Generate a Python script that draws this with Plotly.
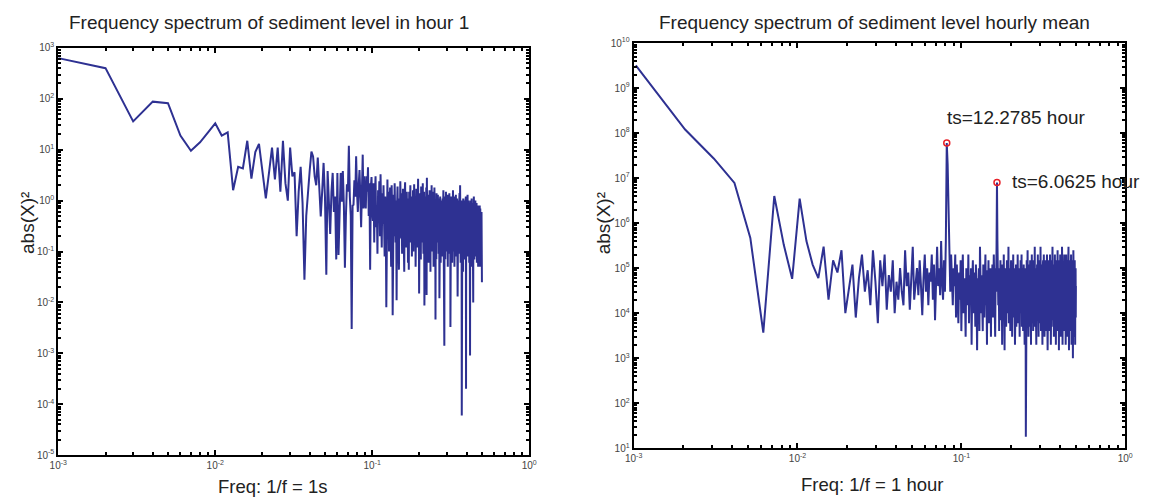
import math
import plotly.graph_objects as go

W, H = 1149, 502

# ---------------- data ----------------
left_n = 1000      # FFT length, left panel (1 s sampling)
right_n = 970      # FFT length, right panel (1 h sampling)

left_vals = [
    630, 400, 36, 88, 82, 19, 9.5, 14, 22, 33, 19, 22, 1.6, 4.6, 4.3, 15, 2.7, 9, 13, 4,
    1.1, 3.5, 11, 2.6, 11, 1.5, 15, 2.2, 1.0, 11, 3.0, 3.6, 0.2, 1.5, 4.6, 0.9, 0.028, 0.5, 1.8, 4,
    9.2, 7.4, 3, 2, 7, 2, 0.49, 1.5, 5.5, 1.2, 0.035, 3.8, 1, 0.22, 1.5, 3.5, 0.6, 1.2, 0.07, 3.5,
    0.085, 1.3, 3.5, 0.95, 3.8, 0.8, 0.048, 0.5, 2.1, 1.5, 12, 1.2, 0.5, 0.003, 0.8, 0.83, 2.5, 1.2, 7.4, 1.5,
    0.6, 2, 4, 1.2, 0.3, 1.6, 8, 0.7, 3, 0.9, 0.7, 3, 1.5, 4.5, 0.5, 2.2, 0.044, 1.8, 2.9, 0.6,
    0.4, 2.2, 0.15, 1.1, 3.0, 0.3, 0.8, 0.09, 1.6, 0.5, 2.4, 0.2, 3.3, 0.7, 0.12, 1.4, 0.35, 2.0, 0.6, 0.08,
    1.2, 0.4, 0.008, 0.9, 2.6, 0.25, 1.5, 0.1, 0.7, 1.8, 0.3, 0.05, 2.0, 0.6, 0.0056, 0.4, 1.3, 0.2, 2.2, 0.5,
    0.15, 1.0, 0.011, 0.8, 1.9, 0.35, 0.07, 0.044, 1.1, 0.3, 2.4, 0.6, 0.18, 1.4, 0.09, 0.5, 1.7, 0.25, 0.9, 0.04,
    1.3, 2.3, 0.2, 0.6, 0.12, 1.5, 0.4, 0.9, 0.06, 1.1, 0.044, 1.5, 0.3, 0.7, 2.0, 0.15, 0.5, 1.2, 0.08, 0.9,
    0.3, 1.6, 0.1, 0.6, 2.1, 0.25, 0.45, 1.0, 0.05, 0.8, 1.7, 0.2, 0.5, 0.12, 1.3, 2.7, 0.35, 0.7, 0.015, 0.6,
    1.4, 0.2, 0.9, 0.07, 1.9, 0.4, 0.15, 1.1, 0.5, 2.2, 0.3, 0.09, 0.8, 1.5, 0.0087, 0.6, 0.25, 1.2, 0.45, 0.1,
    1.8, 0.014, 2.8, 0.3, 0.7, 0.12, 1.3, 0.5, 0.06, 1.0, 0.35, 1.6, 0.2, 0.8, 0.04, 1.2, 0.4, 0.15, 2.0, 0.55,
    0.1, 0.9, 1.5, 0.25, 0.6, 0.05, 1.1, 0.3, 1.8, 0.45, 0.12, 0.8, 0.0046, 1.0, 0.35, 0.07, 1.4, 0.2, 0.6, 1.2,
    0.15, 1.3, 0.4, 0.8, 0.09, 0.5, 1.1, 0.012, 0.7, 0.25, 1.2, 0.45, 0.06, 0.9, 0.3, 1.0, 0.18, 0.9, 0.5, 0.08,
    1.1, 0.3, 0.7, 1.6, 0.2, 0.5, 0.9, 0.0014, 0.6, 1.2, 0.25, 0.07, 0.8, 0.4, 1.5, 0.15, 0.6, 1.0, 0.1, 0.45,
    1.3, 0.3, 0.05, 0.8, 0.5, 1.1, 0.2, 0.7, 0.09, 1.4, 0.35, 0.6, 0.12, 1.0, 0.0033, 0.5, 0.25, 0.9, 1.2, 0.15,
    0.4, 0.8, 0.06, 1.1, 0.3, 0.55, 1.6, 0.2, 0.7, 0.1, 0.9, 0.35, 1.2, 0.05, 0.6, 0.25, 1.0, 0.4, 0.08, 0.75,
    1.3, 0.2, 0.5, 0.9, 0.12, 0.6, 1.1, 0.3, 0.07, 0.013, 0.8, 0.45, 1.0, 0.18, 0.6, 0.35, 0.09, 0.9, 0.25, 1.4,
    0.5, 0.15, 2.0, 0.7, 0.3, 0.06, 0.8, 0.4, 1.0, 0.2, 0.55, 0.00006, 0.6, 0.3, 0.9, 0.12, 0.5, 0.7, 0.04, 1.1,
    0.3, 0.6, 0.1, 0.8, 0.45, 0.2, 1.0, 0.35, 0.07, 0.7, 0.25, 0.9, 0.15, 0.5, 1.2, 0.0002, 0.6, 0.3, 0.8, 0.1,
    0.45, 0.9, 0.2, 0.6, 1.3, 0.3, 0.08, 0.7, 0.4, 1.0, 0.15, 0.5, 0.8, 0.25, 0.06, 0.9, 0.35, 0.55, 0.12, 0.0009,
    0.7, 0.3, 1.0, 0.2, 0.5, 0.09, 0.8, 0.4, 0.15, 1.1, 0.3, 0.6, 0.05, 0.7, 0.25, 0.9, 0.4, 0.1, 0.6, 0.01,
    0.8, 0.35, 0.15, 1.2, 0.3, 0.5, 0.07, 0.7, 0.25, 0.9, 0.4, 0.12, 0.6, 1.0, 0.2, 0.45, 0.08, 0.7, 0.3, 0.55,
    0.15, 0.9, 0.35, 0.06, 0.6, 0.25, 0.8, 0.4, 0.1, 0.7, 0.3, 0.5, 0.05, 0.8, 0.2, 0.6, 0.35, 0.09, 0.7, 0.4,
    0.15, 0.6, 0.3, 0.8, 0.05, 0.5, 0.25, 0.7, 0.12, 0.55, 0.35, 0.06, 0.6, 0.2, 0.45, 0.03, 0.6, 0.15, 0.5, 0.025,
]

right_vals = [
    3.2e9, 1.2e8, 2.7e7, 7.8e6, 4.7e5, 3.7e3, 4e6, 3.3e5, 5.8e4, 3.5e6,
    4e5, 1.2e5, 6e4, 3e5, 2e4, 1.5e5, 8e4, 2.5e5, 1e4, 4e4,
    1.2e5, 8e3, 6e4, 2e5, 3e4, 9e4, 1.5e4, 2.5e5, 5e4, 6e3,
    1.5e5, 4e4, 2e5, 1.2e4, 7e4, 3e4, 1.5e5, 1e4, 5e4, 2e4,
    1e5, 3e4, 1.5e4, 2.5e5, 4e4, 8e4, 1.2e4, 6e4, 3e5, 2e4,
    5e4, 1e5, 2.5e4, 1.5e5, 4e4, 9e3, 6e4, 2e5, 3e4, 1e5,
    1.5e4, 8e4, 5e4, 2e5, 2e4, 1.2e5, 7e3, 6e4, 3e5, 4e4,
    1e5, 2.5e4, 4e5, 5e4, 2e4, 1.5e5, 3e4, 4e5, 6e7, 2e7,
    2e6, 1e5, 3e4, 2e5, 5e4, 1.5e4, 1e5, 4e4, 2e5, 8e3,
    1.2e5, 3e4, 6e3, 8e4, 2e4, 1.5e5, 4e3, 5e4, 2e5, 1e4, 6e4, 2.5e4, 3e3, 1e5, 4e4, 1.5e4, 2e5, 6e3, 7e4, 2e4,
    1e5, 2e3, 5e4, 1.5e5, 1e4, 3e4, 8e4, 5e3, 1.2e5, 3e4, 1.5e3, 6e4, 2e4, 1e5, 4e3, 3e5, 5e4, 1e4, 7e4, 2.5e4,
    4e3, 1.2e5, 3e4, 8e3, 6e4, 2e5, 1.5e4, 4e4, 2e3, 9e4, 3e4, 1.5e5, 6e3, 5e4, 2e4, 1e5, 3e3, 7e4, 2.5e4, 1.2e5,
    8e3, 4e4, 2e5, 1.5e4, 6e4, 3e3, 1e5, 3e4, 3e5, 8e6, 4e5, 5e4, 1.5e4, 1e5, 4e3, 6e4, 2e4, 1.5e5, 7e3, 5e4,
    1.2e5, 2e3, 3e4, 8e4, 1e4, 2e5, 4e4, 1.5e3, 6e4, 2e4, 1e5, 5e3, 3e4, 1.5e5, 1e4, 5e4, 2.5e4, 3e5, 6e3, 4e4,
    1e5, 2e4, 4e3, 7e4, 1.5e5, 1.2e4, 5e4, 3e3, 9e4, 3e4, 2e5, 8e3, 4e4, 1.5e4, 1e5, 2e3, 6e4, 2.5e4, 1.2e5, 5e3,
    3e4, 8e4, 1.5e4, 2e5, 4e4, 6e3, 5e4, 1e5, 2e4, 3e3, 7e4, 3e4, 1.5e5, 1e4, 4e4, 2e5, 5e3, 6e4, 2e4, 1e5,
    4e3, 3e4, 1.2e5, 1.5e4, 5e4, 2e3, 8e4, 3e4, 1e5, 18, 6e4, 2e4, 1.5e5, 8e3, 4e4, 2.5e5, 1e4, 5e4, 3e3, 7e4,
    2e4, 1.2e5, 5e3, 4e4, 1.5e5, 1.5e4, 6e4, 2e3, 9e4, 3e4, 2e5, 6e3, 5e4, 2e4, 1e5, 4e3, 3e4, 1.5e5, 1e4, 6e4,
    2.5e4, 3e5, 5e3, 4e4, 1e5, 1.5e4, 7e4, 2e3, 5e4, 2e4, 1.2e5, 8e3, 3e4, 2e5, 1e4, 6e4, 3e3, 8e4, 2.5e4, 1.5e5,
    6e3, 4e4, 1e5, 1.5e4, 3e5, 5e4, 4e3, 7e4, 2e4, 1.2e5, 1e4, 5e4, 2e3, 9e4, 3e4, 1.5e5, 7e3, 4e4, 2e5, 1.5e4,
    6e4, 3e3, 1e5, 2.5e4, 5e4, 1.5e5, 8e3, 3e4, 1.2e5, 4e3, 6e4, 2e4, 2e5, 1e4, 4e4, 1.5e3, 8e4, 3e4, 1e5, 6e3,
    5e4, 1.5e5, 2e4, 4e3, 7e4, 3e4, 2e5, 1.2e4, 4e4, 1e5, 2e3, 6e4, 2.5e4, 1.5e5, 5e3, 3e4, 8e4, 1.5e4, 3e5, 4e4,
    7e3, 6e4, 1e5, 2e4, 5e4, 3e3, 1.2e5, 3e4, 1e4, 8e4, 2e5, 5e3, 4e4, 1.5e4, 1e5, 2e3, 6e4, 2.5e4, 1.5e5, 8e3,
    3e4, 1e5, 1.5e4, 5e4, 2.5e5, 4e3, 7e4, 2e4, 1.2e5, 1e4, 4e4, 1.5e3, 9e4, 3e4, 1.5e5, 6e3, 5e4, 2e4, 2e5, 1.2e4,
    6e4, 3e3, 1e5, 2.5e4, 4e4, 1.5e5, 8e3, 5e4, 3e5, 1.5e4, 7e4, 2e3, 4e4, 1e5, 2e4, 6e4, 5e3, 1.2e5, 3e4, 1e4,
    8e4, 2e5, 4e3, 5e4, 2e4, 1.5e5, 1e4, 3e4, 1e5, 2e3, 6e4, 2.5e4, 2e5, 7e3, 4e4, 1.2e5, 1.5e4, 5e4, 3e3, 9e4,
    3e4, 1.5e5, 6e3, 4e4, 1e5, 2e4, 3e5, 1.2e4, 5e4, 1.5e3, 8e4, 2.5e4, 1.2e5, 5e3, 4e4, 1.5e5, 1e4, 6e4, 2e4, 1e5,
    4e3, 3e4, 2e5, 1.5e4, 5e4, 2e3, 7e4, 3e4, 1.5e5, 8e3, 4e4, 1e5, 2e4, 6e4, 1e3, 9e4, 2.5e4, 2.5e5, 6e3, 5e4,
    1.2e5, 1.5e4, 4e4, 3e3, 8e4, 2e4, 1.5e5, 1e4, 5e4, 2e3, 6e4, 3e4, 1e5, 8e3, 4e4,
]

left_freq = [k / left_n for k in range(1, len(left_vals) + 1)]
right_freq = [k / right_n for k in range(1, len(right_vals) + 1)]

peak_k = [79, 160]
peak_labels = ["ts=12.2785 hour", "ts=6.0625 hour"]
peak_freq = [k / right_n for k in peak_k]
peak_vals = [right_vals[k - 1] for k in peak_k]

left_title = "Frequency spectrum of sediment level in hour 1"
right_title = "Frequency spectrum of sediment level hourly mean"
left_xlabel = "Freq: 1/f = 1s"
right_xlabel = "Freq: 1/f = 1 hour"
ylabel = "abs(X)²"

x_decades = [-3, -2, -1, 0]
left_y_decades = list(range(-5, 4))
right_y_decades = list(range(1, 11))

# ---------------- styling ----------------
LINE = "#2E3192"
FONT = "Liberation Sans, Arial, Helvetica, sans-serif"
TXT = "#222222"
TICKTXT = "#444444"


def px_x(p):
    return p / W


def px_y(p):
    return 1 - p / H


def dec_labels(decs):
    return [f"10<sup>{d}</sup>" for d in decs]


def minor_vals(lo, hi):
    out = []
    for d in range(lo, hi):
        for m in range(2, 10):
            out.append(m * 10 ** d)
    return out


def axis_common():
    return dict(
        type="log",
        showline=True, linecolor="black", linewidth=2,
        mirror="allticks", ticks="inside", ticklen=5, tickwidth=1.5, tickcolor="black",
        showgrid=False, zeroline=False,
        tickfont=dict(family=FONT, size=10, color=TICKTXT),
        tickmode="array",
    )


# panel pixel boxes
L = dict(x0=50, x1=528, y0=42, y1=460)
R = dict(x0=634, x1=1133, y0=37, y1=453)

fig = go.Figure()
fig.add_trace(go.Scatter(x=left_freq, y=left_vals, mode="lines",
                         line=dict(color=LINE, width=2), xaxis="x", yaxis="y",
                         showlegend=False, hoverinfo="skip"))
fig.add_trace(go.Scatter(x=right_freq, y=right_vals, mode="lines",
                         line=dict(color=LINE, width=2), xaxis="x2", yaxis="y2",
                         showlegend=False, hoverinfo="skip"))
fig.add_trace(go.Scatter(x=peak_freq, y=peak_vals, mode="markers",
                         marker=dict(symbol="circle-open", color="#E8222A", size=6,
                                     line=dict(width=1.5, color="#E8222A")),
                         xaxis="x2", yaxis="y2", showlegend=False, hoverinfo="skip"))

xa = axis_common()
fig.update_layout(
    xaxis=dict(**xa, domain=[px_x(L["x0"]), px_x(L["x1"])], range=[-3, 0],
               tickvals=[10 ** d for d in x_decades], ticktext=dec_labels(x_decades),
               minor=dict(tickmode="array", tickvals=minor_vals(-3, 0), ticks="inside",
                          ticklen=3, tickcolor="black", showgrid=False),
               anchor="y"),
    yaxis=dict(**xa, domain=[px_y(L["y1"]), px_y(L["y0"])], range=[-5, 3],
               tickvals=[10 ** d for d in left_y_decades], ticktext=dec_labels(left_y_decades),
               minor=dict(tickmode="array", tickvals=minor_vals(-5, 3), ticks="inside",
                          ticklen=3, tickcolor="black", showgrid=False),
               anchor="x"),
    xaxis2=dict(**xa, domain=[px_x(R["x0"]), px_x(R["x1"])], range=[-3, 0],
                tickvals=[10 ** d for d in x_decades], ticktext=dec_labels(x_decades),
                minor=dict(tickmode="array", tickvals=minor_vals(-3, 0), ticks="inside",
                           ticklen=3, tickcolor="black", showgrid=False),
                anchor="y2"),
    yaxis2=dict(**xa, domain=[px_y(R["y1"]), px_y(R["y0"])], range=[1, 10],
                tickvals=[10 ** d for d in right_y_decades], ticktext=dec_labels(right_y_decades),
                minor=dict(tickmode="array", tickvals=minor_vals(1, 10), ticks="inside",
                           ticklen=3, tickcolor="black", showgrid=False),
                anchor="x2"),
    width=W, height=H,
    margin=dict(l=0, r=0, t=0, b=0),
    paper_bgcolor="white", plot_bgcolor="white",
    font=dict(family=FONT, color=TXT),
    showlegend=False,
)

ann = []
# titles
ann.append(dict(text=left_title, x=px_x(264), y=px_y(16), xref="paper", yref="paper",
                showarrow=False, font=dict(size=19, color=TXT, family=FONT),
                xanchor="center", yanchor="middle"))
ann.append(dict(text=right_title, x=px_x(878), y=px_y(16), xref="paper", yref="paper",
                showarrow=False, font=dict(size=19, color=TXT, family=FONT),
                xanchor="center", yanchor="middle"))
# x labels
ann.append(dict(text=left_xlabel, x=px_x(268), y=px_y(492), xref="paper", yref="paper",
                showarrow=False, font=dict(size=18.5, color=TXT, family=FONT),
                xanchor="center", yanchor="middle"))
ann.append(dict(text=right_xlabel, x=px_x(876), y=px_y(490), xref="paper", yref="paper",
                showarrow=False, font=dict(size=18.5, color=TXT, family=FONT),
                xanchor="center", yanchor="middle"))
# y labels
ann.append(dict(text=ylabel, x=px_x(19), y=px_y(222), xref="paper", yref="paper",
                showarrow=False, textangle=-90, font=dict(size=19, color=TXT, family=FONT),
                xanchor="center", yanchor="middle"))
ann.append(dict(text=ylabel, x=px_x(603), y=px_y(222), xref="paper", yref="paper",
                showarrow=False, textangle=-90, font=dict(size=19, color=TXT, family=FONT),
                xanchor="center", yanchor="middle"))
# peak labels
shifts = [(-2, 26), (13, 1)]
for f, v, t, (dx, dy) in zip(peak_freq, peak_vals, peak_labels, shifts):
    ann.append(dict(text=t, x=math.log10(f), y=math.log10(v), xref="x2", yref="y2",
                    showarrow=False, xanchor="left", yanchor="middle",
                    xshift=dx, yshift=dy, font=dict(size=19, color=TXT, family=FONT)))
fig.update_layout(annotations=ann)

fig.write_html("out.html")
